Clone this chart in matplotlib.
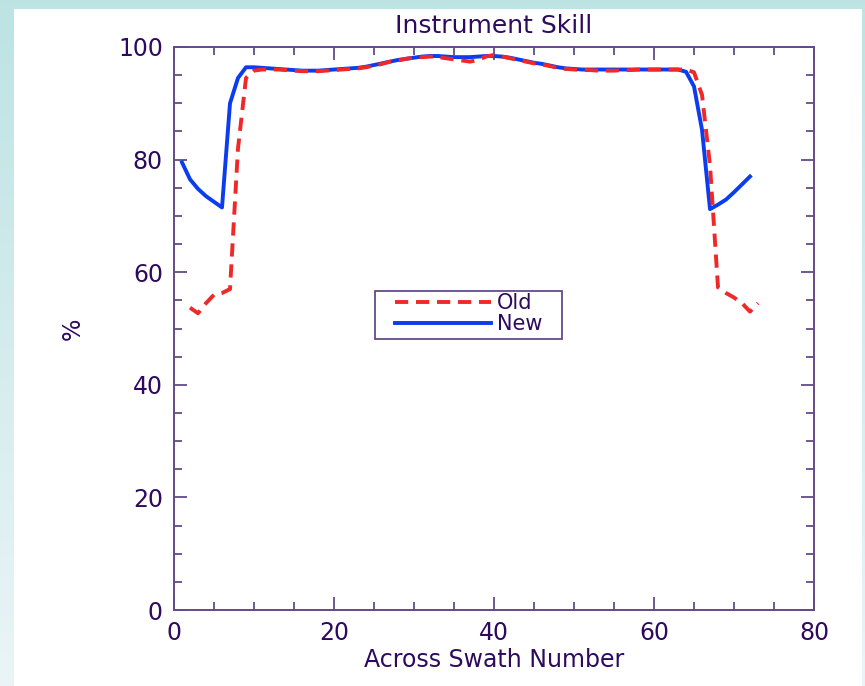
import numpy as np
import matplotlib
matplotlib.use("Agg")
import matplotlib.pyplot as plt
from matplotlib.patches import Rectangle

# swath positions and skill (%) for the two instrument versions
new_x = list(range(1, 73))
new_skill = [
    79.5, 76.5, 74.8, 73.5, 72.5, 71.5, 90.0, 94.5, 96.4, 96.4,
    96.3, 96.2, 96.1, 96.0, 95.9, 95.8, 95.8, 95.8, 95.9, 96.0,
    96.1, 96.2, 96.3, 96.5, 96.8, 97.1, 97.4, 97.7, 97.9, 98.1,
    98.3, 98.4, 98.4, 98.3, 98.2, 98.2, 98.2, 98.3, 98.4, 98.4,
    98.3, 98.1, 97.8, 97.5, 97.2, 97.0, 96.7, 96.4, 96.2, 96.1,
    96.0, 96.0, 96.0, 96.0, 96.0, 96.0, 96.0, 96.0, 96.0, 96.0,
    96.0, 96.0, 96.0, 95.6, 93.0, 85.3, 71.2, 72.0, 72.9, 74.2,
    75.6, 77.0,
]
old_x = list(range(2, 74))
old_skill = [
    53.7, 52.7, 54.5, 56.0, 56.3, 57.0, 82.0, 94.5, 95.8, 96.0,
    96.0, 96.0, 95.9, 95.8, 95.7, 95.7, 95.7, 95.8, 95.9, 96.0,
    96.1, 96.2, 96.4, 96.7, 97.0, 97.4, 97.6, 97.9, 98.1, 98.2,
    98.3, 98.2, 98.0, 97.8, 97.6, 97.4, 97.7, 98.3, 98.6, 98.3,
    98.0, 97.7, 97.4, 97.1, 96.9, 96.6, 96.3, 96.1, 96.0, 95.9,
    95.9, 95.8, 95.8, 95.8, 95.9, 95.9, 96.0, 96.0, 96.0, 96.0,
    96.0, 96.0, 96.0, 95.5, 91.5, 79.0, 57.3, 56.3, 55.5, 54.5,
    53.0, 54.5,
]

ink = "#2e0a5e"
frame = "#654a88"

fig = plt.figure(figsize=(8.65, 6.86), dpi=100)

# light cyan gradient behind a white panel
bg = fig.add_axes([0, 0, 1, 1], zorder=-10)
grad = np.linspace(0, 1, 256).reshape(-1, 1)
top = np.array([0.74, 0.89, 0.89])
bot = np.array([0.92, 0.96, 0.97])
img = top + (bot - top) * grad[:, :, None]
bg.imshow(img, aspect="auto", extent=[0, 1, 0, 1], origin="upper")
bg.add_patch(Rectangle((14 / 865, 0), (862 - 14) / 865, (686 - 9) / 686,
                       facecolor="white", edgecolor="none"))
bg.set_xlim(0, 1)
bg.set_ylim(0, 1)
bg.axis("off")

ax = fig.add_axes([174 / 865, 76 / 686, 640 / 865, 563 / 686])
ax.set_facecolor("none")

ax.plot(old_x, old_skill, color="#f02828", lw=2.8, ls=(0, (3.4, 2.0)),
        label="Old", zorder=3)
ax.plot(new_x, new_skill, color="#0a3cf0", lw=2.8, label="New", zorder=2)

ax.set_xlim(0, 80)
ax.set_ylim(0, 100)
ax.set_xticks(range(0, 81, 20))
ax.set_xticks(range(0, 81, 5), minor=True)
ax.set_yticks(range(0, 101, 20))
ax.set_yticks(range(0, 101, 5), minor=True)

for s in ax.spines.values():
    s.set_color(frame)
    s.set_linewidth(1.4)
ax.tick_params(which="both", direction="in", top=True, right=True,
               color=frame, width=1.3, labelcolor=ink, labelsize=17)
ax.tick_params(which="major", length=9.5, pad=8)
ax.tick_params(which="minor", length=5.8)

ax.set_title("Instrument Skill", color=ink, fontsize=18, pad=10)
ax.set_xlabel("Across Swath Number", color=ink, fontsize=17, labelpad=2)
ax.set_ylabel("%", color=ink, fontsize=17, labelpad=24)

# legend box drawn separately so it can be wider than the entries
ax.add_patch(Rectangle((0.314, 0.481), 0.292, 0.086, transform=ax.transAxes,
                       facecolor="white", edgecolor=frame, lw=1.3, zorder=4))
leg = ax.legend(loc="upper left", bbox_to_anchor=(0.345, 0.563),
                borderaxespad=0, frameon=False, fontsize=15,
                handlelength=4.6, handletextpad=0.3, borderpad=0,
                labelspacing=0.05)
leg.set_zorder(5)
for t in leg.get_texts():
    t.set_color(ink)

fig.savefig("out.png", dpi=100)
